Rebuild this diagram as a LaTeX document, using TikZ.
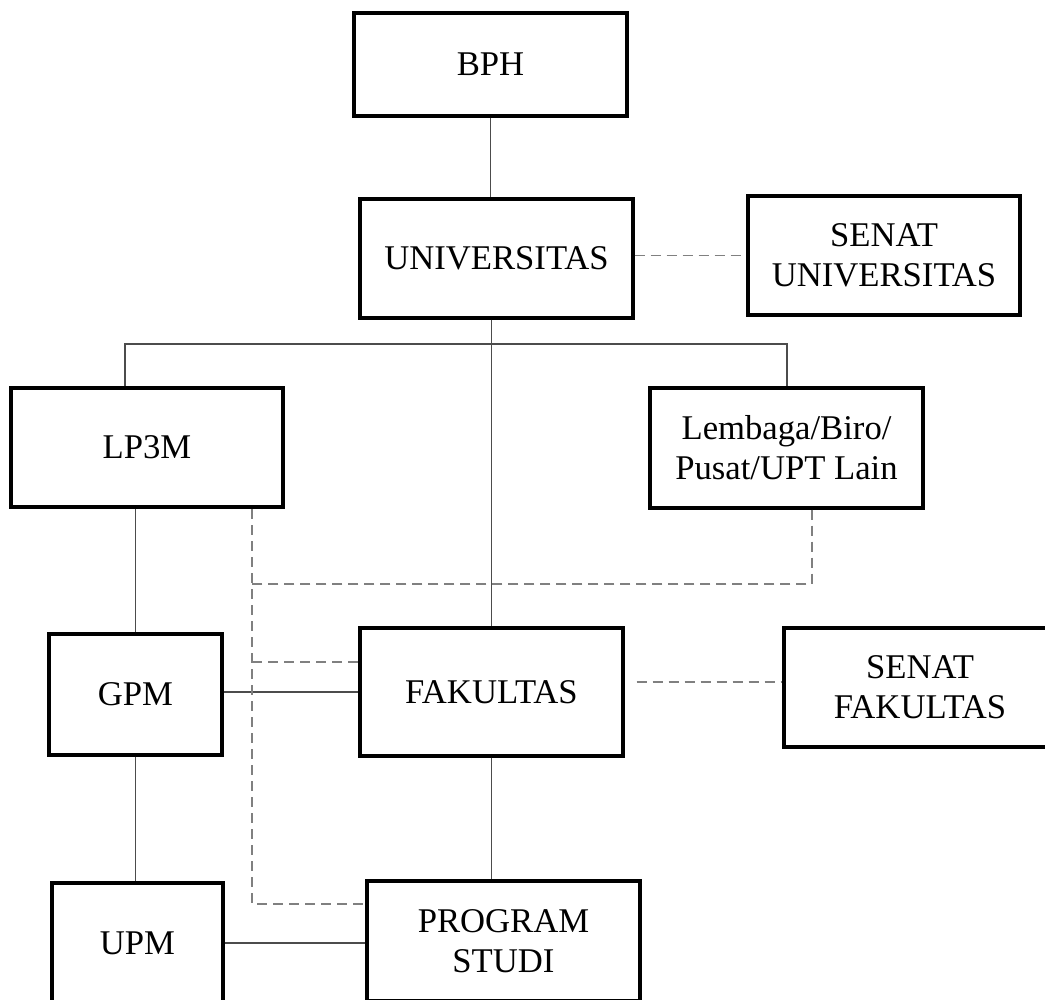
\documentclass[tikz,border=0pt]{standalone}
\usepackage{fontspec}
\setmainfont{Liberation Serif}
\begin{document}
\begin{tikzpicture}[x=0.75pt,y=-0.75pt,
  box/.style={draw=black,line width=2.4pt,inner sep=0pt,align=center,
    font=\fontsize{26}{30}\selectfont},
  wh/.style 2 args={minimum width=#1*0.75pt,minimum height=#2*0.75pt},
  link/.style={draw=black!70,line width=1.2pt},
  dlink/.style={draw=black!50,line width=1.3pt,dash pattern=on 7.5pt off 4.5pt}]
\useasboundingbox (0,0) rectangle (1045,999);
\fill[white] (0,0) rectangle (1045,999);

% boxes
\node[box,wh={273}{103}] (bph)    at (490.5,64.5) {BPH};
\node[box,wh={273}{119}] (univ)   at (496.5,258.5) {UNIVERSITAS};
\node[box,wh={272}{119}] (senatu) at (884,255.5) {SENAT\\UNIVERSITAS};
\node[box,wh={272}{119}] (lp3m)   at (147,447.5) {LP3M};
\node[box,wh={273}{120}] (lemb)   at (786.5,448) {Lembaga/Biro/\\Pusat/UPT Lain};
\node[box,wh={173}{121}] (gpm)    at (135.5,694.5) {GPM};
\node[box,wh={263}{128}] (fak)    at (491.5,692) {FAKULTAS};
\node[box,wh={272}{119}] (senatf) at (920,687.5) {SENAT\\FAKULTAS};
\node[box,wh={171}{120}] (upm)    at (137.5,943) {UPM};
\node[box,wh={273}{120}] (prog)   at (503.5,941) {PROGRAM\\STUDI};

% helper coordinates
\coordinate (busL) at (125,344);
\coordinate (busR) at (787,344);
\coordinate (dTop) at (252,509);
\coordinate (dBot) at (252,904);
\coordinate (dF)   at (252,662);
\coordinate (dL)   at (812,584);

% solid connectors
\draw[link] (bph.south) -- (bph.south |- univ.north);
\draw[link] (fak.north |- univ.south) -- (fak.north);
\draw[link] (busL |- lp3m.north) -- (busL) -- (busR) -- (busR |- lemb.north);
\draw[link] (gpm.north |- lp3m.south) -- (gpm.north);
\draw[link] (gpm.south) -- (gpm.south |- upm.north);
\draw[link] (gpm.east |- 0,692) -- (fak.west |- 0,692);
\draw[link] (upm.east) -- (upm.east -| prog.west);
\draw[link] (fak.south) -- (fak.south |- prog.north);

% dashed connectors
\draw[dlink] (senatu.west -| univ.east) -- (senatu.west);
\draw[dlink,shorten <=9pt] (fak.east |- 0,682) -- (senatf.west |- 0,682);
\draw[dlink] (dTop) -- (dBot) -- (dBot -| prog.west);
\draw[dlink] (dF) -- (dF -| fak.west);
\draw[dlink] (lemb.south -| dL) -- (dL) -- (dL -| dTop);
\end{tikzpicture}
\end{document}
